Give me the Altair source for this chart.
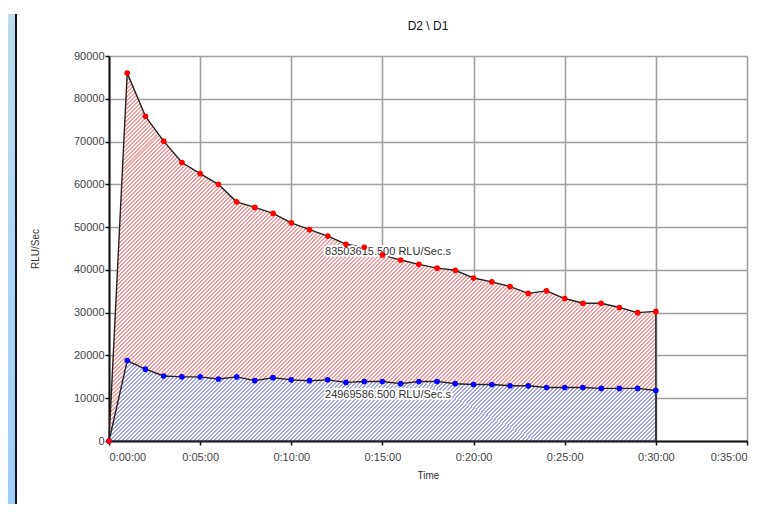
import altair as alt
import pandas as pd

# ---- data ----
minutes = list(range(31))
d2_values = [0, 86000, 75900, 70100, 65100, 62500, 60000, 55900, 54600, 53200,
             51000, 49400, 47900, 46000, 45300, 43500, 42300, 41300, 40400, 39900,
             38100, 37200, 36100, 34500, 35100, 33300, 32200, 32200, 31200, 30000,
             30300]
d1_values = [0, 18800, 16800, 15200, 15000, 15000, 14500, 15000, 14100, 14800,
             14300, 14100, 14300, 13700, 13900, 13900, 13400, 13900, 13900, 13400,
             13200, 13200, 12900, 12900, 12500, 12500, 12500, 12300, 12300, 12300,
             11800]
x_ticks = [0, 5, 10, 15, 20, 25, 30, 35]
y_ticks = [0, 10000, 20000, 30000, 40000, 50000, 60000, 70000, 80000, 90000]
ann_text = ["83503615.500 RLU/Sec.s", "24969586.500 RLU/Sec.s"]
ann_x = [11.85, 11.85]
ann_y = [44100, 10750]

df = pd.DataFrame({"minute": minutes, "d2": d2_values, "d1": d1_values})
ann = pd.DataFrame({"x": ann_x, "y": ann_y, "t": ann_text})

FONT = "Liberation Sans"
W, H = 638, 385


def stripes(color, n, frac=0.5, x2=1.0, y2=1.0):
    stops = []
    for k in range(n):
        a = round(k / n, 6)
        m = round((k + frac) / n, 6)
        b = round((k + 1) / n, 6)
        stops += [alt.GradientStop(color=color, offset=a),
                  alt.GradientStop(color=color, offset=m),
                  alt.GradientStop(color="#ffffff", offset=m),
                  alt.GradientStop(color="#ffffff", offset=b)]
    return alt.LinearGradient(gradient="linear", x1=0, y1=0, x2=x2, y2=y2, stops=stops)


x_enc = alt.X("minute:Q", scale=alt.Scale(domain=[0, 35], nice=False),
              axis=alt.Axis(values=x_ticks, title="Time",
                            labelExpr="'0:' + (datum.value < 10 ? '0' : '') + datum.value + ':00'",
                            titleY=34, titleBaseline="middle"))

y_axis = alt.Axis(values=y_ticks, format="d", title="RLU/Sec",
                  titleX=-74, titleY=H / 2, titleAngle=270,
                  titleAlign="center", titleBaseline="middle")
y_scale = alt.Scale(domain=[0, 90000], nice=False)

base = alt.Chart(df)

red_area = base.mark_area(
    fill=stripes("#ff9a9a", 229, 0.5, 1.152, 0.775),
    stroke="#222222", strokeWidth=1.4, strokeJoin="round"
).encode(x=x_enc, y=alt.Y("d2:Q", scale=y_scale, axis=y_axis))

blue_area = base.mark_area(
    fill=stripes("#a4a4f4", 157, 0.5, 1.122, 0.164),
    stroke="#222222", strokeWidth=1.4, strokeJoin="round"
).encode(x="minute:Q", y="d1:Q")

blue_pts = base.mark_circle(color="#0000ff", size=32, opacity=1).encode(x="minute:Q", y="d1:Q")
red_pts = base.mark_circle(color="#ff0000", size=32, opacity=1).encode(x="minute:Q", y="d2:Q")

ann_halo = alt.Chart(ann).mark_text(
    align="left", baseline="middle", font=FONT, fontSize=11,
    stroke="white", strokeWidth=4, color="white"
).encode(x="x:Q", y="y:Q", text="t:N")
ann_txt = alt.Chart(ann).mark_text(
    align="left", baseline="middle", font=FONT, fontSize=11, color="#333333"
).encode(x="x:Q", y="y:Q", text="t:N")

one = alt.Data(values=[{"k": 1}])
side_bar = alt.Chart(one).mark_rect(
    fill=alt.LinearGradient(gradient="linear", x1=0, y1=0, x2=0, y2=1,
                            stops=[alt.GradientStop(color="#bcdde9", offset=0),
                                   alt.GradientStop(color="#9ecdfc", offset=1)])
).encode(x=alt.value(-101), x2=alt.value(-94), y=alt.value(-42), y2=alt.value(460))
side_line = alt.Chart(one).mark_rule(color="#111122", strokeWidth=2).encode(
    x=alt.value(-93), y=alt.value(-42), y2=alt.value(460))

chart = alt.layer(
    side_bar, side_line, red_area, blue_area, ann_halo, ann_txt, blue_pts, red_pts
).properties(
    width=W, height=H,
    title=alt.TitleParams("D2 \\ D1", font=FONT, fontSize=12, fontWeight="normal",
                          color="#111111", anchor="middle", offset=0, dy=20),
    autosize=alt.AutoSizeParams(type="none"),
    padding={"left": 101, "top": 48, "right": 18, "bottom": 63},
).configure_view(stroke=None).configure_axis(
    labelFont=FONT, labelFontSize=11, labelColor="#444444",
    titleFont=FONT, titleFontSize=10, titleColor="#333333", titleFontWeight="normal",
    gridColor="#a0a0a0", gridWidth=1.6, gridOpacity=1,
    domainColor="#111111", domainWidth=2,
    tickColor="#111111", tickWidth=1.5, tickSize=4,
).configure_axisX(labelPadding=6).configure_axisY(labelPadding=1)

chart.save("out.html", embed_options={"renderer": "svg", "actions": False})
